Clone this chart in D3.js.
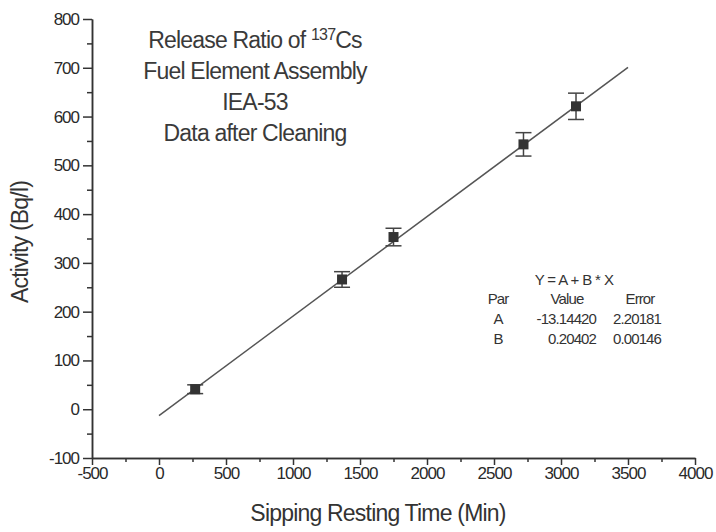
<!DOCTYPE html>
<html>
<head>
<meta charset="utf-8">
<script src="https://cdn.jsdelivr.net/npm/d3@7"></script>
<style>
  body { margin: 0; background: #fff; }
  svg { display: block; font-family: "Liberation Sans", Arial, sans-serif; }
  .axis text { font-size: 17px; fill: #2a2a2a; letter-spacing: -1px; }
  .axis path, .axis line { stroke: #333; stroke-width: 1.5; }
</style>
</head>
<body>
<svg width="716" height="532"></svg>
<script>
// sipping measurements
const times = [270, 1366, 1750, 2720, 3112];
const activity = [41, 266, 353, 543, 621];
const errors = [9, 16, 18, 24, 27];

// linear fit Y = A + B * X
const fitA = -13.14420;
const fitB = 0.20402;
const fitRange = [0, 3500];
const fitTable = [
    ["Par", "Value", "Error"],
    ["A", "-13.14420", "2.20181"],
    ["B", "0.20402", "0.00146"]
];

const titleLines = ["Release Ratio of ", "Fuel Element Assembly", "IEA-53", "Data after Cleaning"];

const xTicks = d3.range(-500, 4001, 500);
const yTicks = d3.range(-100, 801, 100);

const margin = {top: 19, right: 21, bottom: 74, left: 92};
const width = 716 - margin.left - margin.right;
const height = 532 - margin.top - margin.bottom;

const svg = d3.select("svg");
const g = svg.append("g").attr("transform", `translate(${margin.left},${margin.top})`);

const x = d3.scaleLinear().domain([-500, 4000]).range([0, width]);
const y = d3.scaleLinear().domain([-100, 800]).range([height, 0]);

const fmt = d => String(d);

// minor ticks
g.append("g").attr("class", "axis")
    .attr("transform", `translate(0,${height})`)
    .call(d3.axisBottom(x).tickValues(d3.range(-250, 4000, 500)).tickSize(4).tickFormat("").tickSizeOuter(0));
g.append("g").attr("class", "axis")
    .call(d3.axisLeft(y).tickValues(d3.range(-50, 800, 100)).tickSize(5).tickFormat("").tickSizeOuter(0));

// major axes
g.append("g").attr("class", "axis")
    .attr("transform", `translate(0,${height})`)
    .call(d3.axisBottom(x).tickValues(xTicks).tickFormat(fmt).tickSize(7).tickPadding(2).tickSizeOuter(0));
g.append("g").attr("class", "axis")
    .call(d3.axisLeft(y).tickValues(yTicks).tickFormat(fmt).tickSize(9).tickPadding(4).tickSizeOuter(0));

// fit line
g.append("line")
    .attr("x1", x(fitRange[0])).attr("y1", y(fitA + fitB * fitRange[0]))
    .attr("x2", x(fitRange[1])).attr("y2", y(fitA + fitB * fitRange[1]))
    .attr("stroke", "#555").attr("stroke-width", 1.5);

// error bars
const pts = times.map((t, i) => ({t, a: activity[i], e: errors[i]}));
const eb = g.selectAll(".eb").data(pts).enter().append("g").attr("class", "eb")
    .attr("stroke", "#444").attr("stroke-width", 1.5);
eb.append("line")
    .attr("x1", d => x(d.t)).attr("x2", d => x(d.t))
    .attr("y1", d => y(d.a - d.e)).attr("y2", d => y(d.a + d.e));
eb.append("line")
    .attr("x1", d => x(d.t) - 8).attr("x2", d => x(d.t) + 8)
    .attr("y1", d => y(d.a + d.e)).attr("y2", d => y(d.a + d.e));
eb.append("line")
    .attr("x1", d => x(d.t) - 8).attr("x2", d => x(d.t) + 8)
    .attr("y1", d => y(d.a - d.e)).attr("y2", d => y(d.a - d.e));

g.selectAll(".pt").data(pts).enter().append("rect")
    .attr("x", d => x(d.t) - 5).attr("y", d => y(d.a) - 5)
    .attr("width", 10).attr("height", 10)
    .attr("fill", "#333");

// title
const title = svg.append("text")
    .attr("text-anchor", "middle")
    .attr("font-size", 23).attr("fill", "#3a3a3a").attr("letter-spacing", -0.8);
titleLines.forEach((line, i) => {
    title.append("tspan").attr("x", 255).attr("y", 48 + i * 31).text(line);
    if (i == 0) {
        title.append("tspan").attr("dy", -8).attr("font-size", 16).text("137");
        title.append("tspan").attr("dy", 8).text("Cs");
    }
});

// fit parameters
svg.append("text").attr("x", 574).attr("y", 285).attr("text-anchor", "middle")
    .attr("font-size", 15).attr("fill", "#333").attr("letter-spacing", -0.6)
    .text("Y = A + B * X");
const colX = [[498, "middle"], [596, "end"], [661, "end"]];
fitTable.forEach((row, r) => {
    row.forEach((cell, c) => {
        let cx = colX[c][0], anchor = colX[c][1];
        if (r == 0) { cx = [498, 567, 640][c]; anchor = "middle"; }
        svg.append("text").attr("x", cx).attr("y", 304 + r * 20)
            .attr("text-anchor", anchor)
            .attr("font-size", 15).attr("fill", "#333").attr("letter-spacing", -0.9)
            .text(cell);
    });
});

// axis titles
svg.append("text").attr("x", 378).attr("y", 521).attr("text-anchor", "middle")
    .attr("font-size", 23).attr("fill", "#333").attr("letter-spacing", -0.8)
    .text("Sipping Resting Time (Min)");
svg.append("text").attr("transform", "translate(28,242) rotate(-90)").attr("text-anchor", "middle")
    .attr("font-size", 23).attr("fill", "#333").attr("letter-spacing", -0.8)
    .text("Activity (Bq/l)");
</script>
</body>
</html>
